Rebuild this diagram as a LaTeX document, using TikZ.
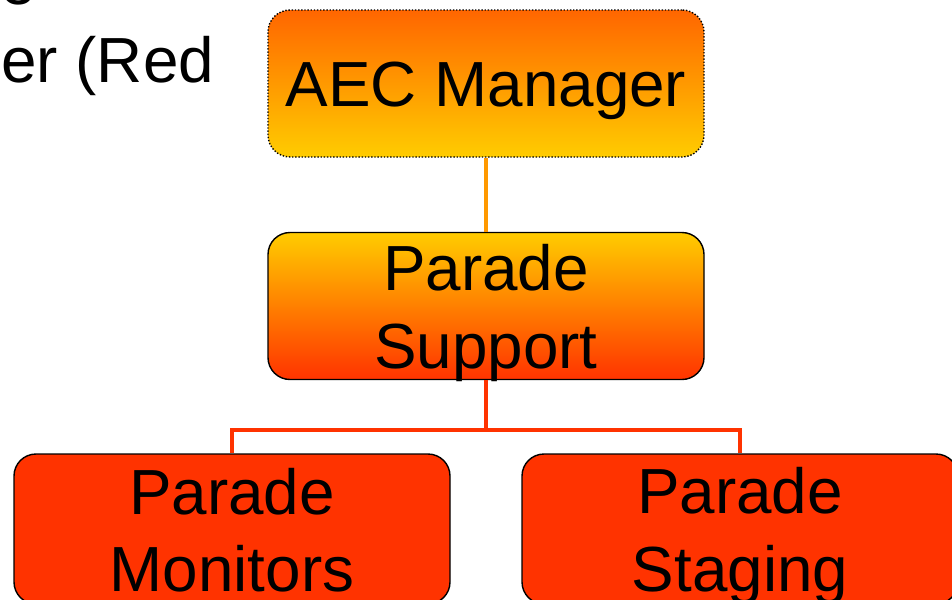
\documentclass[tikz,border=0pt]{standalone}
\usepackage{fontspec}
\setmainfont{Liberation Sans}
\definecolor{cOrange}{HTML}{FF6600}
\definecolor{cYellow}{HTML}{FFCC00}
\definecolor{cRed}{HTML}{FF3300}
\definecolor{cLink}{HTML}{FF9900}
\tikzset{
  box/.style={rectangle, rounded corners=22*0.02cm, draw=black, line width=0.8pt,
    minimum width=436*0.02cm, minimum height=147*0.02cm, inner sep=0pt},
  lbl/.style={font=\fontsize{36.3}{44}\selectfont, align=center, inner sep=0pt},
  link/.style={line width=2.3pt},
}
\begin{document}
\begin{tikzpicture}[x=0.02cm, y=-0.02cm]
\useasboundingbox (0,0) rectangle (952,599);
% partial text at top left
\node[lbl, anchor=base west] (prev) at (0,4) {e};
\node[lbl, anchor=base west] (red) at (1,82) {er (Red};
% boxes
\node[box, densely dotted, top color=cOrange, bottom color=cYellow] (aec) at (486,83.5) {};
\node[box, top color=cYellow, bottom color=cRed] (sup) at (486,306) {};
\node[box, fill=cRed, minimum height=150*0.02cm] (mon) at (232,529) {};
\node[box, fill=cRed, minimum height=150*0.02cm] (stg) at (740,529) {};
% labels
\node[lbl] (aect) at (486,91) {AEC Manager};
\node[lbl] (supt) at (486,313) {Parade\\Support};
\node[lbl] (mont) at (232,530) {Parade\\Monitors};
\node[lbl] (stgt) at (740,536) {Parade\\Staging};
% connectors
\coordinate (j) at (486,430);
\draw[link, draw=cLink] (aec.south) -- (sup.north);
\draw[link, draw=cRed] (sup.south) -- (j);
\draw[link, draw=cRed] (j) -| (mon.north);
\draw[link, draw=cRed] (j) -| (stg.north);
\end{tikzpicture}
\end{document}
